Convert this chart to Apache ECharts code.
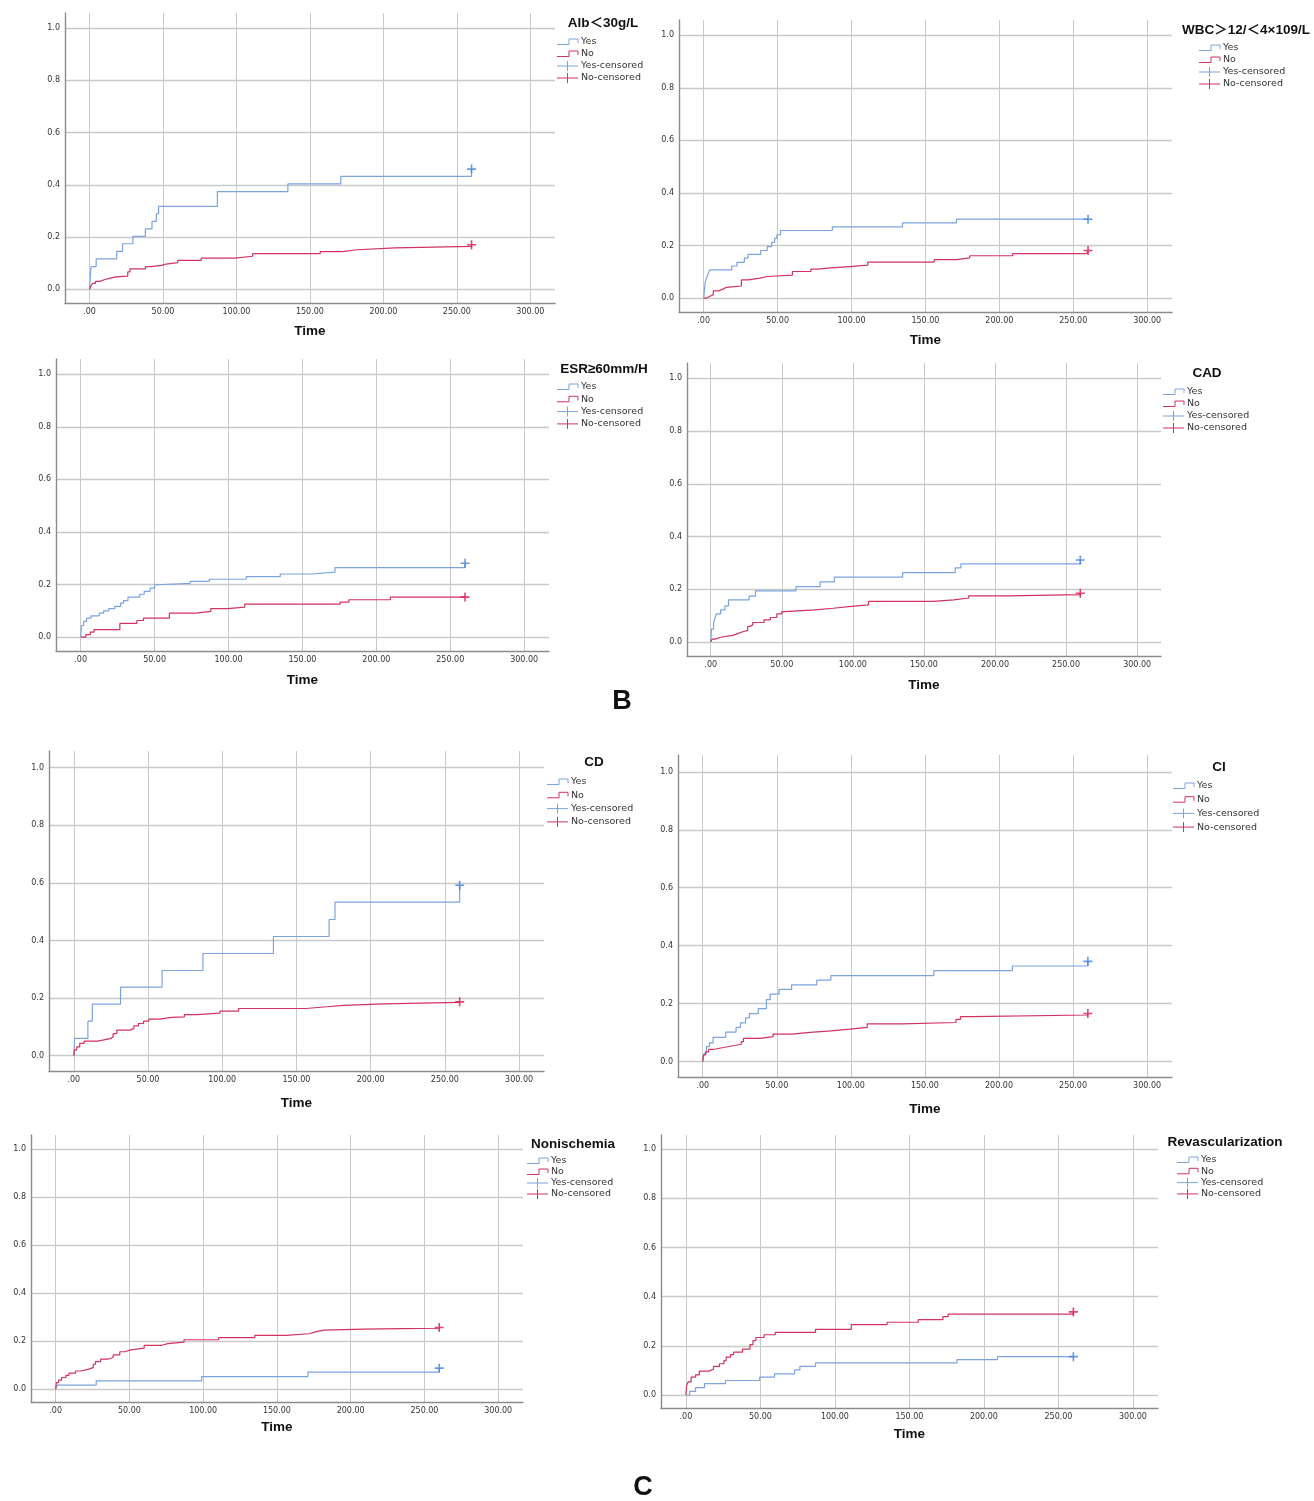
<!DOCTYPE html>
<html>
<head>
<meta charset="utf-8">
<script src="https://cdn.jsdelivr.net/npm/echarts@6/dist/echarts.min.js"></script>
<style>
  html, body { margin: 0; padding: 0; background: #fff; }
  #chart { width: 1314px; height: 1501px; }
</style>
</head>
<body>
<div id="chart"></div>
<script>
// ticks shared by all eight panels
const xTicks = [0, 50, 100, 150, 200, 250, 300];
const xTickLabels = ['.00', '50.00', '100.00', '150.00', '200.00', '250.00', '300.00'];
const yTicks = [0, 0.2, 0.4, 0.6, 0.8, 1.0];
const yTickLabels = ['0.0', '0.2', '0.4', '0.6', '0.8', '1.0'];

const titles = ['Alb＜30g/L', 'WBC＞12/＜4×109/L', 'ESR≥60mm/H', 'CAD', 'CD', 'CI', 'Nonischemia', 'Revascularization'];
const groupNames = ['Yes', 'No', 'Yes-censored', 'No-censored'];

// [time, cumulative incidence]
const albYes = [[0,0],[1,0.086],[4.5,0.116],[18.5,0.145],[22.5,0.174],[29.5,0.202],[38,0.231],[42.5,0.26],[45.5,0.289],[47,0.317],[87,0.374],[135,0.403],[171,0.432],[260,0.46]];
const albNo = [[0,0],[1,0.012],[2,0.022],[4,0.03],[7,0.036],[10,0.042],[14,0.047],[18,0.05],[26,0.066],[27.5,0.078],[38,0.086],[42,0.091],[49,0.096],[52,0.102],[60,0.11],[76,0.119],[99,0.126],[111,0.136],[157,0.144],[172,0.151],[182,0.158],[208,0.164],[260,0.17]];

const wbcYes = [[0,0],[1,0.06],[2,0.077],[3,0.093],[4,0.107],[19,0.122],[22.5,0.136],[27.5,0.152],[30,0.166],[38.5,0.181],[43,0.196],[46,0.212],[48,0.227],[49.5,0.241],[52,0.257],[87,0.271],[134.5,0.286],[171,0.3],[260,0.3]];
const wbcNo = [[0,0],[2,0.006],[4,0.013],[6.5,0.027],[10,0.034],[13,0.041],[15.5,0.046],[25.5,0.069],[30,0.076],[38,0.082],[43,0.087],[60,0.101],[72.5,0.11],[77,0.115],[86,0.12],[98.5,0.125],[111,0.137],[156,0.146],[171,0.153],[180,0.161],[209,0.169],[258.5,0.175],[260,0.181]];

const esrYes = [[0,0],[0.5,0.044],[2,0.06],[4,0.072],[7,0.081],[12.5,0.091],[15.5,0.1],[19,0.108],[23,0.117],[27,0.129],[29,0.139],[32,0.152],[40,0.163],[43,0.174],[47,0.186],[50,0.199],[52,0.204],[74,0.212],[87,0.22],[112,0.23],[135,0.24],[156,0.247],[172,0.264],[260,0.281]];
const esrNo = [[0,0],[3.5,0.009],[6.5,0.019],[9,0.028],[26.5,0.052],[38,0.063],[42.5,0.072],[60,0.091],[78,0.098],[88,0.108],[99.5,0.114],[111,0.125],[175.5,0.133],[181.5,0.142],[209.5,0.152],[260,0.152]];

const cadYes = [[0,0],[0.5,0.049],[2,0.072],[3,0.091],[4,0.107],[7,0.122],[10,0.137],[12.5,0.16],[27,0.174],[31.5,0.194],[60,0.21],[77,0.228],[87,0.246],[135,0.263],[172,0.281],[176,0.296],[260,0.311]];
const cadNo = [[0,0],[1,0.011],[3,0.018],[7,0.025],[15.5,0.031],[18.5,0.038],[22,0.044],[26,0.059],[27.5,0.065],[29.5,0.074],[37.5,0.084],[42,0.093],[46.5,0.107],[50,0.115],[52.5,0.122],[73,0.128],[86,0.135],[99,0.141],[111,0.154],[156.5,0.16],[171,0.167],[181.5,0.175],[209.5,0.18],[260,0.185]];

const cdYes = [[0,0],[0.5,0.06],[9.5,0.12],[12.5,0.179],[31.5,0.238],[59.5,0.296],[87,0.355],[134.5,0.414],[172,0.473],[176,0.533],[260,0.592]];
const cdNo = [[0,0],[0.5,0.02],[2,0.031],[4,0.043],[7,0.051],[16,0.054],[19.5,0.06],[25,0.066],[26.5,0.077],[29,0.089],[38,0.095],[40.5,0.104],[43.5,0.112],[47,0.12],[50.5,0.127],[57.5,0.133],[66,0.135],[74.5,0.143],[83,0.148],[98.5,0.155],[111,0.164],[156.5,0.17],[170.5,0.175],[182,0.18],[209,0.185],[260,0.187]];

const ciYes = [[0,0],[1,0.029],[2.5,0.052],[4.5,0.065],[7,0.084],[15.5,0.102],[22.5,0.118],[25.5,0.134],[29,0.151],[31.5,0.166],[37.5,0.183],[43,0.214],[45.5,0.233],[51.5,0.249],[60,0.265],[77,0.281],[86.5,0.297],[156,0.314],[209,0.33],[260,0.346]];
const ciNo = [[0,0],[0.5,0.023],[2,0.034],[4,0.042],[7,0.048],[13,0.054],[19.5,0.06],[26,0.069],[27.5,0.08],[38.5,0.086],[47.5,0.095],[60,0.101],[72.5,0.106],[86.5,0.112],[99.5,0.118],[111,0.13],[134.5,0.135],[171,0.146],[174,0.155],[181,0.161],[260,0.166]];

const nonYes = [[0,0],[1,0.017],[27.5,0.035],[99,0.053],[171,0.071],[260,0.088]];
const nonNo = [[0,0],[0.5,0.028],[2,0.038],[4,0.049],[7,0.058],[9,0.067],[13.5,0.076],[17,0.083],[22,0.09],[25.5,0.104],[27,0.115],[30.5,0.125],[35.5,0.132],[39,0.143],[43.5,0.156],[47,0.164],[51,0.171],[60,0.183],[72,0.19],[76,0.196],[87,0.206],[110.5,0.215],[135,0.224],[156,0.231],[172,0.239],[176,0.246],[182,0.25],[209,0.254],[260,0.257]];

const revYes = [[0,0],[2.5,0.015],[6.5,0.03],[12.5,0.046],[26.5,0.059],[49.5,0.073],[59.5,0.086],[73,0.102],[76.5,0.116],[87,0.131],[182,0.144],[209,0.156],[260,0.156]];
const revNo = [[0,0],[0.5,0.039],[1.5,0.053],[3.5,0.073],[6.5,0.082],[9,0.097],[15.5,0.105],[18.5,0.116],[22.5,0.127],[25.5,0.14],[27,0.154],[30,0.164],[32,0.174],[38,0.187],[43,0.205],[45,0.221],[47,0.234],[52.5,0.245],[60,0.255],[87,0.267],[111,0.286],[135,0.296],[156,0.307],[172.5,0.319],[176,0.329],[260,0.338]];

const curves = [
  [albYes, albNo], [wbcYes, wbcNo], [esrYes, esrNo], [cadYes, cadNo],
  [cdYes, cdNo], [ciYes, ciNo], [nonYes, nonNo], [revYes, revNo]
];

// page layout: grid [left, top, width, height], legend title centre,
// legend [icon left, first row y, row step], gap to the "Time" label
const panels = [
  { grid: [65, 13, 490, 290],   title: [603, 23],    legend: [557, 42, 12],     nameGap: 22 },
  { grid: [679, 20, 493, 292],  title: [1246, 30],   legend: [1199, 48, 12],    nameGap: 22 },
  { grid: [56, 359, 493, 292],  title: [604, 369],   legend: [557, 387, 12.3],  nameGap: 23 },
  { grid: [687, 363, 474, 293], title: [1207, 373],  legend: [1163, 392, 12],   nameGap: 23 },
  { grid: [49, 751, 495, 320],  title: [594, 762],   legend: [547, 782, 13.3],  nameGap: 26 },
  { grid: [678, 755, 494, 322], title: [1219, 767],  legend: [1173, 786, 13.7], nameGap: 26 },
  { grid: [31, 1135, 492, 267], title: [573, 1144],  legend: [527, 1161, 11],   nameGap: 19 },
  { grid: [661, 1135, 497, 273], title: [1225, 1142], legend: [1177, 1160, 11.3], nameGap: 20 }
];

const X_MIN = -16.7, X_MAX = 316.8, Y_MIN = -0.053, Y_MAX = 1.058;
const LINE_COLORS = ['#7ba4dd', '#d2335f'];
const MARK_COLORS = ['#3f7fda', '#e0134f'];
const TICK_FONT = 'DejaVu Sans';
const BOLD_FONT = 'Liberation Sans, Arial, Noto Sans CJK SC';

function pick(ticks, labels, v) {
  const k = ticks.findIndex(t => Math.abs(t - v) < 1e-6);
  return k < 0 ? '' : labels[k];
}

const grid = [], xAxis = [], yAxis = [], series = [], graphic = [];

panels.forEach((p, i) => {
  grid.push({ left: p.grid[0], top: p.grid[1], width: p.grid[2], height: p.grid[3], outerBoundsMode: 'none' });

  xAxis.push({
    type: 'value', gridIndex: i, min: X_MIN, max: X_MAX,
    name: 'Time', nameLocation: 'middle', nameGap: p.nameGap,
    nameTextStyle: { fontFamily: BOLD_FONT, fontWeight: 'bold', fontSize: 13.5, color: '#111' },
    axisLine: { show: true, onZero: false, lineStyle: { color: '#8c8c8c', width: 1.4 } },
    axisTick: { show: false, customValues: xTicks },
    axisLabel: {
      customValues: xTicks, margin: 5, fontFamily: TICK_FONT, fontSize: 8, color: '#333',
      formatter: v => pick(xTicks, xTickLabels, v)
    },
    splitLine: { show: true, lineStyle: { color: '#c9c9c9', width: 1 } }
  });

  yAxis.push({
    type: 'value', gridIndex: i, min: Y_MIN, max: Y_MAX,
    axisLine: { show: true, onZero: false, lineStyle: { color: '#8c8c8c', width: 1.4 } },
    axisTick: { show: false, customValues: yTicks },
    axisLabel: {
      customValues: yTicks, margin: 5, fontFamily: TICK_FONT, fontSize: 8, color: '#333',
      formatter: v => pick(yTicks, yTickLabels, v)
    },
    splitLine: { show: true, lineStyle: { color: '#c9c9c9', width: 1.3 } }
  });

  curves[i].forEach((pts, s) => {
    series.push({
      name: groupNames[s], type: 'line', step: 'end', xAxisIndex: i, yAxisIndex: i,
      data: pts, symbol: 'none', silent: true,
      lineStyle: { color: LINE_COLORS[s], width: 1.2 }
    });
    series.push({
      name: groupNames[s + 2], type: 'scatter', xAxisIndex: i, yAxisIndex: i,
      data: [pts[pts.length - 1]], silent: true, z: 3,
      symbol: 'path://M5 0L5 10M0 5L10 5', symbolSize: 9,
      itemStyle: { color: 'transparent', borderColor: MARK_COLORS[s], borderWidth: 1.6 }
    });
  });

  // legend block, drawn in SPSS style
  graphic.push({
    type: 'text', x: p.title[0], y: p.title[1], silent: true,
    style: { text: titles[i], fontFamily: BOLD_FONT, fontWeight: 'bold', fontSize: 13.5,
             fill: '#111', align: 'center', verticalAlign: 'middle' }
  });
  const [lx, ly, step] = p.legend;
  groupNames.forEach((name, k) => {
    const y = ly + k * step;
    const color = LINE_COLORS[k % 2];
    if (k < 2) {
      graphic.push({
        type: 'polyline', silent: true,
        shape: { points: [[lx, y + 2.5], [lx + 12, y + 2.5], [lx + 12, y - 3], [lx + 21, y - 3], [lx + 21, y + 1]] },
        style: { stroke: color, lineWidth: 1, fill: null }
      });
    } else {
      graphic.push({
        type: 'polyline', silent: true,
        shape: { points: [[lx, y], [lx + 21, y]] },
        style: { stroke: color, lineWidth: 1, fill: null }
      });
      graphic.push({
        type: 'polyline', silent: true,
        shape: { points: [[lx + 10.5, y - 5], [lx + 10.5, y + 5]] },
        style: { stroke: color, lineWidth: 1, fill: null }
      });
    }
    graphic.push({
      type: 'text', x: lx + 24, y: y, silent: true,
      style: { text: name, fontFamily: TICK_FONT, fontSize: 9.5, fill: '#333', verticalAlign: 'middle' }
    });
  });
});

// panel letters
graphic.push({
  type: 'text', x: 622, y: 702, silent: true,
  style: { text: 'B', fontFamily: BOLD_FONT, fontWeight: 'bold', fontSize: 27, fill: '#111', align: 'center', verticalAlign: 'middle' }
});
graphic.push({
  type: 'text', x: 643, y: 1488, silent: true,
  style: { text: 'C', fontFamily: BOLD_FONT, fontWeight: 'bold', fontSize: 27, fill: '#111', align: 'center', verticalAlign: 'middle' }
});

const chart = echarts.init(document.getElementById('chart'));
chart.setOption({
  backgroundColor: '#fff',
  animation: false,
  grid, xAxis, yAxis, series, graphic
});
</script>
</body>
</html>
